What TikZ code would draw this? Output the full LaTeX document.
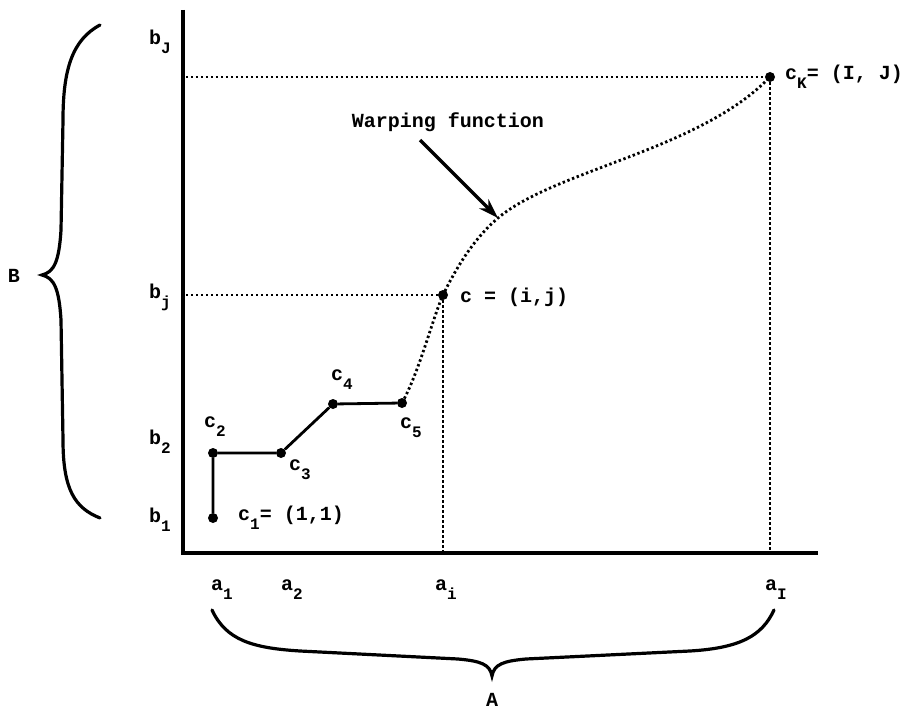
\documentclass[tikz,border=0pt]{standalone}
\usepackage{fontspec}
\setmainfont{Liberation Mono}
\usetikzlibrary{arrows.meta}
\newcommand\sbs[1]{\raisebox{-0.45em}{\fontsize{16}{16}\selectfont #1}}
\begin{document}
\begin{tikzpicture}[x=1pt,y=-1pt,
  lbl/.style={font=\fontsize{20}{23}\selectfont\bfseries, inner sep=0pt},
  axisline/.style={line width=3.6pt},
  guide/.style={line width=2.8pt, dash pattern=on 2.4pt off 2.6pt},
  seg/.style={line width=2.8pt},
  brace/.style={line width=3.2pt, line cap=round},
  pt/.style={circle, fill=black, inner sep=0pt, minimum size=10pt}]
\useasboundingbox (0,0) rectangle (906,709);
% axes
\coordinate (O) at (183,553);
\coordinate (Ytop) at (183,10);
\coordinate (Xend) at (818,553);
\draw[axisline] (Ytop) -- (O) -- (Xend);
% points
\node[pt] (c1) at (213,518) {};
\node[pt] (c2) at (213,453) {};
\node[pt] (c3) at (281,453) {};
\node[pt] (c4) at (333,404) {};
\node[pt] (c5) at (402,403) {};
\node[pt] (C) at (443,295) {};
\node[pt] (CK) at (770,77) {};
\coordinate (P) at (498,218);
% guides
\coordinate (yJ) at (186,77);
\coordinate (yj) at (186,295);
\coordinate (xi) at (443,553);
\coordinate (xI) at (770,553);
\draw[guide] (yJ) -- (CK) -- (xI);
\draw[guide] (yj) -- (C) -- (xi);
% path segments
\draw[seg] (c1) -- (c2) -- (c3) -- (c4) -- (c5);
% warping curve
\draw[guide] (c5.center) .. controls (420,370) and (432,320) .. (C.center)
  .. controls (460,260) and (478,235) .. (P)
  .. controls (555,170) and (700,150) .. (CK.center);
% arrow
\coordinate (Astart) at (420,140);
\draw[line width=3.2pt, -{Stealth[length=20pt,width=13pt]}] (Astart) -- (P);
\node[lbl] (wf) at (448,122) {Warping function};
% point labels
\node[lbl, anchor=west] (lc1) at (238,518) {c\sbs{1}= (1,1)};
\node[lbl] (lc2) at (215,427) {c\sbs{2}};
\node[lbl] (lc3) at (300,470) {c\sbs{3}};
\node[lbl] (lc4) at (342,380) {c\sbs{4}};
\node[lbl] (lc5) at (411,428) {c\sbs{5}};
\node[lbl, anchor=west] (lC) at (460,297) {c = (i,j)};
\node[lbl, anchor=west] (lCK) at (785,77) {c\sbs{K}= (I, J)};
% axis labels
\node[lbl] (bJ) at (160,42) {b\sbs{J}};
\node[lbl] (bj) at (160,297) {b\sbs{j}};
\node[lbl] (b2) at (160,442) {b\sbs{2}};
\node[lbl] (b1) at (160,520) {b\sbs{1}};
\node[lbl] (a1) at (222,590) {a\sbs{1}};
\node[lbl] (a2) at (292,590) {a\sbs{2}};
\node[lbl] (ai) at (446,590) {a\sbs{i}};
\node[lbl] (aI) at (776,590) {a\sbs{I}};
% braces
\draw[brace] (100,25) .. controls (72,40) and (63,70) .. (63,120) -- (61,230)
  .. controls (59,262) and (54,272) .. (42,275)
  .. controls (54,278) and (59,288) .. (61,320) -- (63,440)
  .. controls (63,490) and (75,508) .. (100,518);
\node[lbl] (B) at (14,276) {B};
\draw[brace] (212,610) .. controls (226,640) and (252,648) .. (300,651) -- (458,659)
  .. controls (480,661) and (490,664) .. (492,676)
  .. controls (494,664) and (504,661) .. (526,659) -- (690,651)
  .. controls (740,648) and (762,636) .. (774,610);
\node[lbl] (A) at (492,700) {A};
\end{tikzpicture}
\end{document}
